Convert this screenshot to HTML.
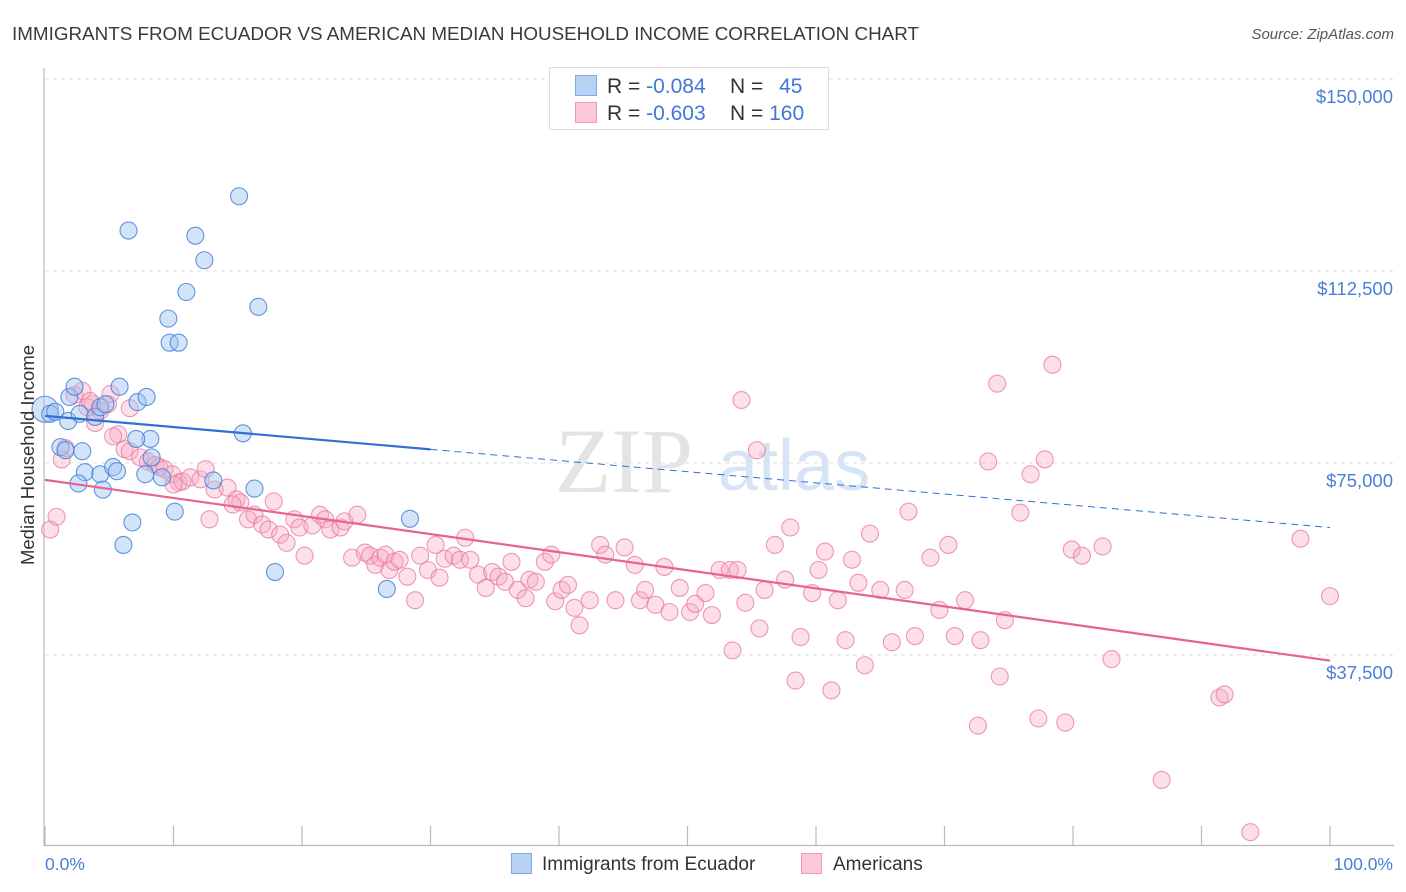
<!DOCTYPE html>
<html><head><meta charset="utf-8">
<style>
body{margin:0;background:#fff;font-family:"Liberation Sans",sans-serif;}
#wrap{position:relative;width:1406px;height:892px;overflow:hidden;}
</style></head>
<body>
<div id="wrap">
<svg id="chart" width="1406" height="892">
  <text x="12" y="40" font-size="18" fill="#3a3a3a" textLength="907" lengthAdjust="spacingAndGlyphs">IMMIGRANTS FROM ECUADOR VS AMERICAN MEDIAN HOUSEHOLD INCOME CORRELATION CHART</text>
  <text x="1394" y="39" font-size="15" font-style="italic" fill="#555" text-anchor="end">Source: ZipAtlas.com</text>
  <g id="grid"></g>
  <text x="555" y="492" font-family="Liberation Serif,serif" font-size="92" fill="#e4e4e4">ZIP</text>
  <text x="718" y="490" font-size="72" fill="#d6e5f6">atlas</text>
  <line x1="44" y1="68" x2="44" y2="846" stroke="#bbb" stroke-width="1.2"/>
  <line x1="44" y1="845.5" x2="1394" y2="845.5" stroke="#bbb" stroke-width="1.2"/>
  <g id="xticks"></g>
  <g id="ylabels"></g>
  <g id="pink"></g>
  <g id="blue"></g>
  <g id="trends"></g>
  <text transform="translate(34,455) rotate(-90)" font-size="18.5" fill="#333" text-anchor="middle">Median Household Income</text>
  <text x="45" y="870" font-size="17.5" fill="#4a7fd4">0.0%</text>
  <text x="1393" y="870" font-size="17.5" fill="#4a7fd4" text-anchor="end">100.0%</text>
  <g>
    <rect x="549.5" y="67.5" width="279" height="62" fill="#fff" stroke="#ddd"/>
    <rect x="575.5" y="75.5" width="21" height="20" fill="#b8d2f5" stroke="#7fa8e6"/>
    <rect x="575.5" y="102.5" width="21" height="20" fill="#fcc8d7" stroke="#ee9ab5"/>
    <text x="607" y="93" font-size="21" fill="#333">R = <tspan fill="#3f78d6">-0.084</tspan></text>
    <text x="730" y="93" font-size="21" fill="#333">N = <tspan fill="#3f78d6" dx="10">45</tspan></text>
    <text x="607" y="120" font-size="21" fill="#333">R = <tspan fill="#3f78d6">-0.603</tspan></text>
    <text x="730" y="120" font-size="21" fill="#333">N = <tspan fill="#3f78d6">160</tspan></text>
  </g>
  <g>
    <rect x="511.5" y="853.5" width="20" height="20" fill="#b8d2f5" stroke="#7fa8e6"/>
    <text x="542" y="870" font-size="19" fill="#333">Immigrants from Ecuador</text>
    <rect x="801.5" y="853.5" width="20" height="20" fill="#fcc8d7" stroke="#ee9ab5"/>
    <text x="833" y="870" font-size="19" fill="#333">Americans</text>
  </g>
</svg>
</div>
<script>
const yTicks = [37.5, 75, 112.5, 150];
const yTickLabels = ["$37,500", "$75,000", "$112,500", "$150,000"];
const xTickPcts = [0,10,20,30,40,50,60,70,80,90,100];
const blueX = [0,0.4,0.8,1.9,2.3,1.8,2.7,3.9,4.3,4.7,5.8,7.2,7.9,1.2,1.6,2.9,3.1,4.3,5.3,5.6,4.5,8.2,7.1,8.3,7.8,9.1,13.1,16.3,10.1,6.8,6.1,17.9,26.6,28.4,6.5,11.7,12.4,11.0,9.6,9.7,10.4,15.1,16.6,15.4,2.6];
const blueY = [85.5,84.6,85.0,87.9,89.9,83.2,84.6,84.0,85.9,86.5,89.9,86.9,87.9,78.1,77.5,77.3,73.2,72.8,74.2,73.4,69.8,79.7,79.7,76.1,72.8,72.2,71.6,70.0,65.5,63.4,59.0,53.7,50.4,64.1,120.4,119.4,114.6,108.4,103.2,98.5,98.5,127.1,105.5,80.8,71.0];
const pinkX = [0.4,0.9,1.3,2.3,2.9,3.3,3.7,4.3,4.9,5.7,5.3,6.2,6.6,7.4,8.0,8.6,8.9,9.3,9.9,10.4,10.7,11.3,12.1,12.5,12.8,13.2,14.2,14.9,15.2,15.8,16.3,16.9,17.4,17.8,18.3,18.8,19.4,19.8,20.2,20.8,21.4,21.8,22.2,23.0,23.3,23.9,24.3,24.9,25.3,25.7,26.1,26.5,26.8,27.2,27.6,28.2,28.8,29.2,29.8,30.4,30.7,31.1,31.8,32.3,32.7,33.1,33.7,34.3,34.8,35.3,35.8,36.3,36.8,37.4,37.7,38.2,38.9,39.4,39.7,40.2,40.7,41.2,41.6,42.4,43.2,43.6,44.4,45.1,45.9,46.3,46.7,47.5,48.2,48.6,49.4,50.2,50.6,51.4,51.9,52.5,53.3,53.9,54.5,53.5,55.6,56.0,56.8,57.6,58.0,58.4,58.8,59.7,60.2,60.7,61.2,61.7,62.3,62.8,63.3,63.8,64.2,65.0,65.9,66.9,67.2,67.7,68.9,69.6,70.3,70.8,71.6,72.6,72.8,73.4,74.1,74.3,74.7,75.9,76.7,77.3,77.8,78.4,79.4,79.9,80.7,82.3,83.0,86.9,91.4,91.8,93.8,97.7,100,54.2,55.4,3.5,6.6,5.1,3.9,1.6,10.0,14.6];
const pinkY = [62.0,64.5,75.7,88.3,89.1,85.9,86.5,85.2,86.5,80.6,80.2,77.7,77.3,76.1,75.3,74.6,74.2,73.8,72.8,71.2,71.4,72.2,71.8,73.8,64.0,69.8,70.2,67.9,67.3,64.0,64.9,63.0,62.0,67.5,61.0,59.4,64.0,62.4,56.9,62.8,64.9,64.0,62.0,62.4,63.6,56.5,64.9,57.5,56.9,55.1,56.5,57.1,54.1,55.7,56.1,52.8,48.2,56.9,54.1,59.0,52.6,56.3,56.9,56.1,60.4,56.1,53.2,50.6,53.7,52.8,51.8,55.7,50.2,48.6,52.2,51.8,55.7,57.1,48.0,50.2,51.2,46.7,43.3,48.2,59.0,57.1,48.2,58.5,55.1,48.2,50.2,47.3,54.7,45.9,50.6,45.9,47.5,49.6,45.3,54.1,54.1,54.1,47.7,38.4,42.7,50.2,59.0,52.2,62.4,32.5,41.0,49.6,54.1,57.7,30.6,48.2,40.4,56.1,51.6,35.5,61.2,50.2,40.0,50.2,65.5,41.2,56.5,46.3,59.0,41.2,48.2,23.7,40.4,75.3,90.5,33.3,44.3,65.3,72.8,25.1,75.7,94.2,24.3,58.1,56.9,58.7,36.7,13.1,29.2,29.8,2.9,60.2,49.0,87.3,77.5,87.1,85.7,88.5,82.8,77.9,70.8,66.9];
const blueTrend = [84.2, 62.4];
const pinkTrend = [71.7, 36.4];
const blueSolidEnd = 30;

const NS = "http://www.w3.org/2000/svg";
const X0 = 45, X1 = 1330, Y0 = 847, PX_PER_K = 192/37.5;
const xs = p => X0 + (X1 - X0) * p / 100;
const ys = v => Y0 - v * PX_PER_K;
function mk(tag, attrs, parent){
  const e = document.createElementNS(NS, tag);
  for (const k in attrs) e.setAttribute(k, attrs[k]);
  parent.appendChild(e);
  return e;
}
const grid = document.getElementById('grid');
const yl = document.getElementById('ylabels');
yTicks.forEach((t, i) => {
  const l = mk('line', {x1: 45, x2: 1394, y1: ys(t), y2: ys(t), stroke: '#ddd', 'stroke-dasharray': '4,4'}, grid);
  
  
  const tx = mk('text', {x: 1393, y: ys(t) + 24, 'font-size': 18.5, fill: '#4a7fd4', 'text-anchor': 'end'}, yl);
  tx.textContent = yTickLabels[i];
  
  
});
const xt = document.getElementById('xticks');
xTickPcts.forEach(p => {
  const l = mk('line', {x1: xs(p), x2: xs(p), y1: 826, y2: 845, stroke: '#bbb', 'stroke-width': 1.2}, xt);
  
  
});
const pg = document.getElementById('pink');
pinkX.forEach((p, i) => {
  const c = mk('circle', {cx: xs(p), cy: ys(pinkY[i]), r: 8.5, fill: 'rgba(247,170,196,0.38)', stroke: 'rgba(232,120,158,0.75)', 'stroke-width': 1.1}, pg);
  
  
});
const bg = document.getElementById('blue');
blueX.forEach((p, i) => {
  const c = mk('circle', {cx: xs(p), cy: ys(blueY[i]), r: i === 0 ? 13 : 8.5, fill: 'rgba(160,196,240,0.45)', stroke: 'rgba(70,130,220,0.85)', 'stroke-width': 1.1}, bg);
  
  
});
const tg = document.getElementById('trends');
const bAt = p => blueTrend[0] + (blueTrend[1] - blueTrend[0]) * p / 100;
const pAt = p => pinkTrend[0] + (pinkTrend[1] - pinkTrend[0]) * p / 100;
const b1 = mk('line', {x1: xs(0), y1: ys(bAt(0)), x2: xs(blueSolidEnd), y2: ys(bAt(blueSolidEnd)), stroke: '#2f6fd6', 'stroke-width': 2.2}, tg);


const b2 = mk('line', {x1: xs(blueSolidEnd), y1: ys(bAt(blueSolidEnd)), x2: xs(100), y2: ys(bAt(100)), stroke: '#2f6fd6', 'stroke-width': 1, 'stroke-dasharray': '7,5'}, tg);


const p1 = mk('line', {x1: xs(0), y1: ys(pAt(0)), x2: xs(100), y2: ys(pAt(100)), stroke: '#e8638f', 'stroke-width': 2.2}, tg);


</script>
</body></html>
